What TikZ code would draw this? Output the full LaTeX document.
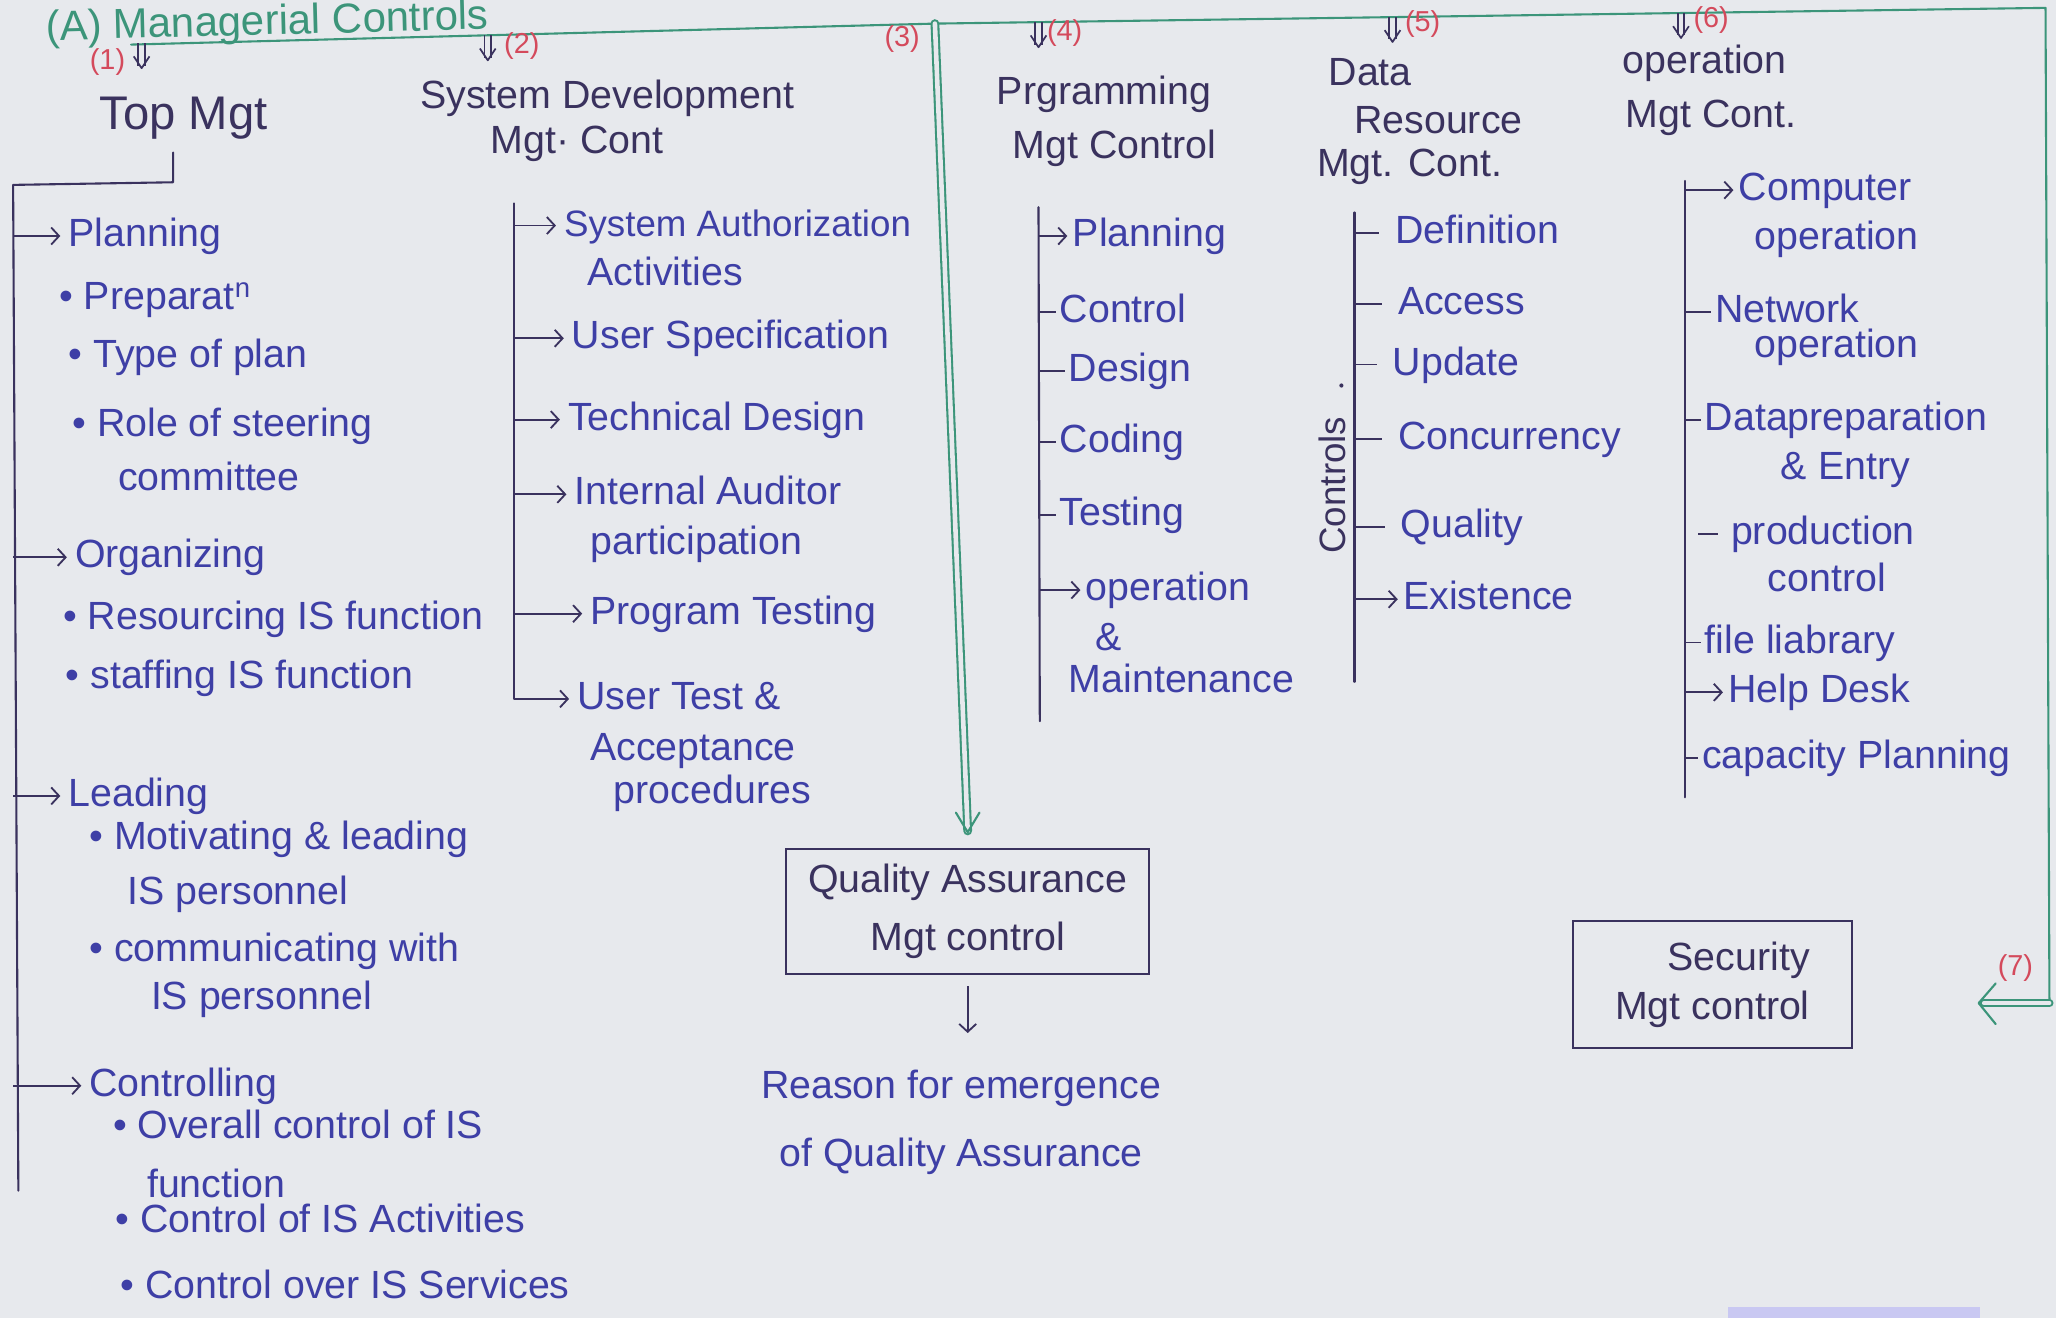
\documentclass[tikz,border=0pt]{standalone}
\usepackage{fontspec}
\setmainfont{Liberation Sans}
\usetikzlibrary{arrows.meta}
\definecolor{bgc}{HTML}{E7E9ED}
\definecolor{inkblue}{HTML}{3E3FA6}
\definecolor{inkdark}{HTML}{3A325E}
\definecolor{grnc}{HTML}{3C957A}
\definecolor{numred}{HTML}{D44A5C}
\definecolor{barc}{HTML}{C9C8F2}
\tikzset{
 txt/.style={font=\fontsize{30}{36}\selectfont, text=inkblue, inner sep=0pt},
 itm/.style={txt, anchor=west, text height=22pt, text depth=6pt},
 hd/.style={font=\fontsize{30}{36}\selectfont, text=inkdark, inner sep=0pt},
 nlab/.style={font=\fontsize{22}{24}\selectfont, text=numred, inner sep=0pt},
 spine/.style={draw=inkdark, line width=1.6pt, line cap=round, line join=round},
 tk/.style={draw=inkdark, line width=1.4pt, shorten >=3pt},
 larr/.style={draw=inkdark, line width=1.4pt, -{Straight Barb[length=6pt,width=13pt]}, shorten >=6pt},
 gline/.style={draw=grnc, line width=1.6pt, line cap=round, line join=round},
 box/.style={draw=inkdark, line width=1.6pt, text=inkdark, align=center, inner sep=0pt, font=\fontsize{30}{44}\selectfont},
 ddn/.pic={
   \draw[inkdark, line width=1.3pt] (-2.5,0) -- (-2.5,17) (2.5,0) -- (2.5,17);
   \draw[inkdark, line width=1.3pt, line join=round] (-6,10) -- (0,19) -- (6,10);
 },
}
\begin{document}
\begin{tikzpicture}[x=1pt,y=-1pt]
\fill[bgc] (0,0) rectangle (1568,1005);
\useasboundingbox (0,0) rectangle (1568,1005);
\clip (0,0) rectangle (1568,1005);
\fill[barc] (1318,997) rectangle (1510,1005);

% ---------- title and green bus ----------
\node[font=\fontsize{32}{34}\selectfont, text=grnc, anchor=base west, inner sep=0pt, rotate=1.5] (title) at (35,31) {(A) Managerial Controls};
\coordinate (bL) at (100,34);
\coordinate (b3) at (713,18);
\coordinate (bR) at (1560,6);
\coordinate (rc) at (1563,765);
\coordinate (c7) at (1509,765);
\draw[gline] (bL) -- (b3) -- (bR) -- (rc);
\draw[gline, double=bgc, double distance=3pt] (rc) -- ([xshift=4pt]c7);
\draw[gline] (1522,750) -- (c7) -- (1522,781);

% ---------- branch arrows ----------
\coordinate (t1) at (108,33);
\coordinate (t2) at (372,27);
\coordinate (t4) at (792,17);
\coordinate (t5) at (1062,13);
\coordinate (t6) at (1282,10);
\pic at (t1) {ddn};
\pic at (t2) {ddn};
\pic at (t4) {ddn};
\pic at (t5) {ddn};
\pic at (t6) {ddn};

\node[nlab] (n1) at (82,47) {(1)};
\node[nlab] (n2) at (398,35) {(2)};
\node[nlab] (n3) at (688,30) {(3)};
\node[nlab] (n4) at (812,25) {(4)};
\node[nlab] (n5) at (1085,18) {(5)};
\node[nlab] (n6) at (1305,15) {(6)};
\node[nlab] (n7) at (1537,738) {(7)};

% ---------- column 1 : Top Mgt ----------
\node[hd, font=\fontsize{36}{40}\selectfont] (topmgt) at (140,90) {Top Mgt};
\coordinate (s1top) at (10,141);
\coordinate (s1bot) at (14,908);
\draw[spine] ([shift={(-8,10)}]topmgt.south) -- (132,139) -- (s1top) -- (s1bot);

\node[itm] (c1a) at (52,180) {Planning};
\node[itm] (c1a1) at (45,228) {• Preparat\textsuperscript{n}};
\node[itm] (c1a2) at (52,272) {• Type of plan};
\node[itm] (c1a3) at (55,325) {• Role of steering};
\node[itm] (c1a3b) at (90,366) {committee};
\node[itm] (c1b) at (57,425) {Organizing};
\node[itm] (c1b1) at (48,472) {• Resourcing IS function};
\node[itm] (c1b2) at (50,517) {• staffing IS function};
\node[itm] (c1c) at (52,607) {Leading};
\node[itm] (c1c1) at (68,640) {• Motivating \& leading};
\node[itm] (c1c1b) at (97,682) {IS personnel};
\node[itm] (c1c2) at (68,725) {• communicating with};
\node[itm] (c1c2b) at (115,762) {IS personnel};
\node[itm] (c1d) at (68,828) {Controlling};
\node[itm] (c1d1) at (86,860) {• Overall control of IS};
\node[itm] (c1d1b) at (112,905) {function};
\node[itm] (c1d2) at (88,932) {• Control of IS Activities};
\node[itm] (c1d3) at (92,982) {• Control over IS Services};
\foreach \n in {c1a,c1b,c1c,c1d}
  \draw[larr] (s1top |- \n.west) -- (\n.west);

% ---------- column 2 : System Development ----------
\node[hd] (h2a) at (463,75) {System Development};
\node[hd] (h2b) at (440,110) {Mgt· Cont};
\coordinate (s2top) at (392,155);
\node[itm, font=\fontsize{28}{34}\selectfont] (c2a) at (430,172) {System Authorization};
\node[itm] (c2ab) at (448,210) {Activities};
\node[itm] (c2b) at (436,258) {User Specification};
\node[itm] (c2c) at (433,320) {Technical Design};
\node[itm] (c2d) at (438,377) {Internal Auditor};
\node[itm] (c2db) at (450,415) {participation};
\node[itm] (c2e) at (450,468) {Program Testing};
\node[itm] (c2f) at (440,533) {User Test \&};
\node[itm] (c2fb) at (450,572) {Acceptance};
\node[itm] (c2fc) at (468,605) {procedures};
\draw[spine, larr] (s2top) |- (c2f.west);
\foreach \n in {c2a,c2b,c2c,c2d,c2e}
  \draw[larr] (s2top |- \n.west) -- (\n.west);

% ---------- column 3 : Quality Assurance ----------
\node[box, minimum width=277pt, minimum height=95pt] (qa) at (738,695) {Quality Assurance\\Mgt control};
\draw[gline, double=bgc, double distance=3.5pt] (b3) -- ([yshift=13pt]qa.north);
\draw[gline] ([shift={(-9,-27)}]qa.north) -- ([yshift=12pt]qa.north) -- ([shift={(9,-27)}]qa.north);
\node[txt, align=center, font=\fontsize{30}{52}\selectfont] (reason) at (733,856) {Reason for emergence\\of Quality Assurance};
\draw[larr, shorten <=9pt, shorten >=28pt] (qa.south) -- (qa.south |- reason.north);

% ---------- column 4 : Programming ----------
\node[hd] (h4a) at (842,72) {Prgramming};
\node[hd] (h4b) at (850,113) {Mgt Control};
\coordinate (s4top) at (792,158);
\coordinate (s4bot) at (793,550);
\draw[spine] (s4top) -- (s4bot);
\node[itm] (c4a) at (818,180) {Planning};
\node[itm] (c4b) at (808,238) {Control};
\node[itm] (c4c) at (815,283) {Design};
\node[itm] (c4d) at (808,337) {Coding};
\node[itm] (c4e) at (808,393) {Testing};
\node[itm] (c4f) at (828,450) {operation};
\node[itm] (c4fb) at (835,488) {\&};
\node[itm] (c4fc) at (815,520) {Maintenance};
\foreach \n in {c4a,c4f}
  \draw[larr, shorten >=4pt] (s4top |- \n.west) -- (\n.west);
\foreach \n in {c4b,c4c,c4d,c4e}
  \draw[tk] (s4top |- \n.west) -- (\n.west);

% ---------- column 5 : Data Resource ----------
\node[hd] (h5a) at (1045,55) {Data};
\node[hd] (h5b) at (1097,92) {Resource};
\node[hd] (h5c) at (1075,127) {Mgt. Cont.};
\coordinate (s5top) at (1033,162);
\coordinate (s5bot) at (1033,520);
\draw[spine] (s5top) -- (s5bot);
\node[itm] (c5a) at (1064,178) {Definition};
\node[itm] (c5b) at (1066,232) {Access};
\node[itm] (c5c) at (1062,278) {Update};
\node[itm] (c5d) at (1066,335) {Concurrency};
\node[itm] (c5e) at (1068,402) {Quality};
\node[itm] (c5f) at (1070,457) {Existence};
\foreach \n in {c5a,c5b,c5c,c5d,c5e}
  \draw[tk, shorten >=12pt] (s5top |- \n.west) -- (\n.west);
\draw[larr, shorten >=4pt] (s5top |- c5f.west) -- (c5f.west);
\node[hd, font=\fontsize{28}{32}\selectfont, rotate=90] (ctl) at (1016,370) {Controls};
\fill[inkdark] (1023,294) circle (1.6);

% ---------- column 6 : Operation ----------
\node[hd] (h6a) at (1300,48) {operation};
\node[hd] (h6b) at (1305,90) {Mgt Cont.};
\coordinate (s6top) at (1285,138);
\coordinate (s6bot) at (1285,608);
\draw[spine] (s6top) -- (s6bot);
\node[itm] (c6a) at (1326,145) {Computer};
\node[itm] (c6ab) at (1338,182) {operation};
\node[itm] (c6b) at (1308,238) {Network};
\node[itm] (c6bb) at (1338,265) {operation};
\node[itm] (c6c) at (1300,320) {Datapreparation};
\node[itm] (c6cb) at (1358,358) {\& Entry};
\node[itm] (c6d) at (1320,407) {production};
\node[itm] (c6db) at (1348,443) {control};
\node[itm] (c6e) at (1300,490) {file liabrary};
\node[itm] (c6f) at (1318,528) {Help Desk};
\node[itm] (c6g) at (1298,578) {capacity Planning};
\foreach \n in {c6a,c6f}
  \draw[larr, shorten >=4pt] (s6top |- \n.west) -- (\n.west);
\foreach \n in {c6b,c6c,c6e,c6g}
  \draw[tk] (s6top |- \n.west) -- (\n.west);
\draw[tk, shorten >=10pt] ([xshift=-25pt]c6d.west) -- (c6d.west);

% ---------- Security box ----------
\node[box, align=right, font=\fontsize{30}{38}\selectfont, minimum width=213pt, minimum height=97pt] (sec) at (1306,751) {Security\\Mgt control};
\end{tikzpicture}
\end{document}
